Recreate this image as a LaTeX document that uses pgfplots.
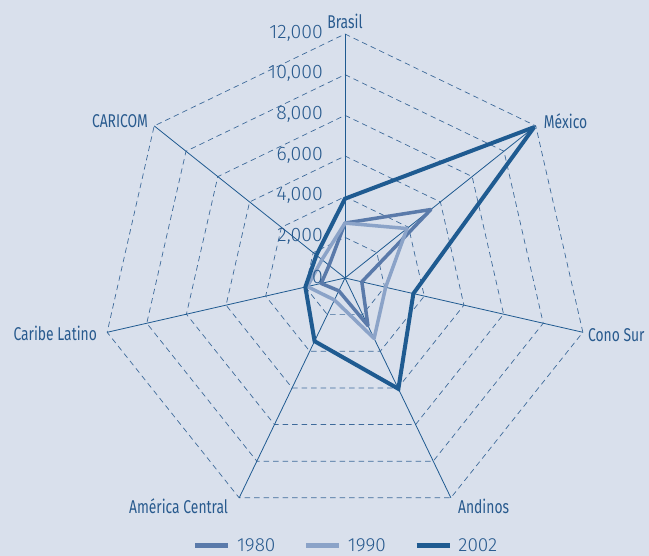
\documentclass[border=0pt]{standalone}
\usepackage{pgfplots}
\pgfplotsset{compat=1.18}
\usepackage{pgfplotstable}
\usepackage{fontspec}
\setmainfont{Fira Sans}[UprightFont=* Light]
\newfontfamily\condfont{Fira Sans}[FakeStretch=0.75]

\definecolor{bg}{HTML}{D9E0EC}
\definecolor{navy}{HTML}{1F5A90}
\definecolor{gridc}{HTML}{3E6A9A}
\definecolor{c80}{HTML}{5A7AAA}
\definecolor{c90}{HTML}{8BA3C8}
\definecolor{c02}{HTML}{1F5B91}
\definecolor{txt}{HTML}{285A8E}

% k: spoke index (0 = Brasil, clockwise)
\pgfplotstableread{
k v1980 v1990 v2002
0 2700 2700 3900
1 5400 3900 11900
2 850 2050 3450
3 2600 3300 6050
4 700 1200 3450
5 1200 1900 2000
6 1000 1450 1800
}\radar

\begin{document}
\begin{tikzpicture}
\begin{axis}[
  scale only axis, width=649pt, height=556pt,
  xmin=-16967, xmax=14951, ymin=-13672, ymax=13672,
  hide axis, clip=false,
  legend columns=3,
  legend style={at={(axis description cs:0.533,0.0185)}, anchor=center,
    draw=none, fill=none, inner sep=0pt,
    font=\fontsize{19}{19}\selectfont\color{txt},
    /tikz/every odd column/.append style={column sep=4pt},
    /tikz/every even column/.append style={column sep=26pt},
    cells={anchor=west}},
  legend image code/.code={\draw[#1, line width=5.5pt, line cap=butt] (0pt,0pt) -- (33pt,0pt);},
]
\fill[bg] (rel axis cs:0,0) rectangle (rel axis cs:1,1);

% grid rings
\pgfplotsinvokeforeach{2000,4000,6000,8000,10000,12000}{
  \draw[gridc, line width=0.7pt, dash pattern=on 5.5pt off 4pt]
    (0,#1) \foreach \k in {1,...,6}{ -- ({#1*sin(\k*360/7)},{#1*cos(\k*360/7)}) } -- cycle;
}
% spokes
\pgfplotsinvokeforeach{0,1,2,3,4,5,6}{
  \draw[navy, line width=0.8pt] (0,0) -- ({12000*sin(#1*360/7)},{12000*cos(#1*360/7)});
}

\addplot[c80, line width=3.5pt, line join=round] table[
  x expr={\thisrow{v1980}*sin(\thisrow{k}*360/7)},
  y expr={\thisrow{v1980}*cos(\thisrow{k}*360/7)}] {\radar} -- cycle;
\addplot[c90, line width=3.5pt, line join=round] table[
  x expr={\thisrow{v1990}*sin(\thisrow{k}*360/7)},
  y expr={\thisrow{v1990}*cos(\thisrow{k}*360/7)}] {\radar} -- cycle;
\addplot[c02, line width=4pt, line join=miter, miter limit=3] table[
  x expr={\thisrow{v2002}*sin(\thisrow{k}*360/7)},
  y expr={\thisrow{v2002}*cos(\thisrow{k}*360/7)}] {\radar} -- cycle;
\legend{1980,1990,2002}

% value labels
\begin{scope}[every node/.style={anchor=east, inner sep=0pt, xshift=-22pt, yshift=1pt,
    text=txt, font=\fontsize{19.5}{19.5}\selectfont}]
\node at (0,0) {0};
\node at (0,2000) {2,000};
\node at (0,4000) {4,000};
\node at (0,6000) {6,000};
\node at (0,8000) {8,000};
\node at (0,10000) {10,000};
\node at (0,12000) {12,000};
\end{scope}

% category labels
\begin{scope}[every node/.style={inner sep=0pt, text=txt, font=\condfont\fontsize{18.5}{18.5}\selectfont}]
\node[anchor=south, yshift=5pt] at (0,12000) {Brasil};
\node[anchor=west, xshift=8pt, yshift=5pt] at ({12000*sin(360/7)},{12000*cos(360/7)}) {México};
\node[anchor=west, xshift=5pt, yshift=-3pt] at ({12000*sin(2*360/7)},{12000*cos(2*360/7)}) {Cono Sur};
\node[anchor=north west, xshift=7pt, yshift=-1pt] at ({12000*sin(3*360/7)},{12000*cos(3*360/7)}) {Andinos};
\node[anchor=north east, xshift=-11pt, yshift=-1pt] at ({12000*sin(4*360/7)},{12000*cos(4*360/7)}) {América Central};
\node[anchor=east, xshift=-10pt, yshift=-1pt] at ({12000*sin(5*360/7)},{12000*cos(5*360/7)}) {Caribe Latino};
\node[anchor=east, xshift=-6pt, yshift=5pt] at ({12000*sin(6*360/7)},{12000*cos(6*360/7)}) {CARICOM};
\end{scope}
\end{axis}
\pgfresetboundingbox
\path (current axis.south west) rectangle (current axis.north east);
\end{tikzpicture}
\end{document}
